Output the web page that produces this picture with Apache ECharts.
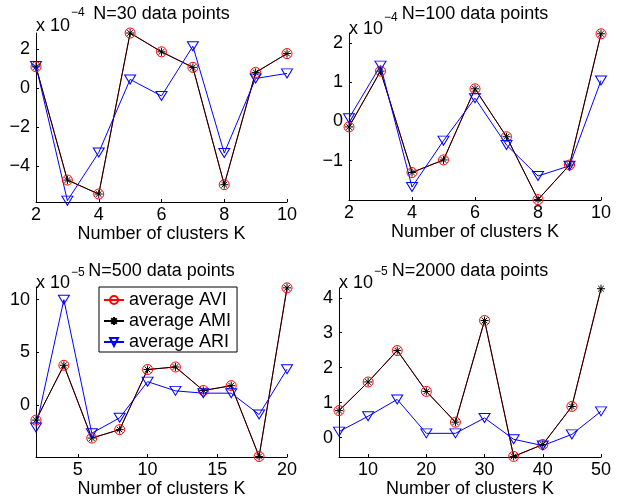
<!DOCTYPE html>
<html lang="en">
<head>
  <meta charset="UTF-8">
  <title>Average AVI / AMI / ARI vs K</title>
  <script src="https://cdn.jsdelivr.net/npm/echarts@6/dist/echarts.min.js"></script>
  <style>
    html, body { margin: 0; padding: 0; background: #fff; }
    #main { width: 618px; height: 499px; }
  </style>
</head>
<body>
  <div id="main"></div>
  <script>
  // cluster counts per panel
  const kSmall = [2, 3, 4, 5, 6, 7, 8, 9, 10];
  const k500 = [2, 4, 6, 8, 10, 12, 14, 16, 18, 20];
  const k2000 = [5, 10, 15, 20, 25, 30, 35, 40, 45, 50];

  // N=30 (x 1e-4)
  const avi30 = [1.11, -4.72, -5.44, 2.85, 1.88, 1.08, -4.96, 0.82, 1.79];
  const ami30 = [1.11, -4.72, -5.44, 2.85, 1.88, 1.08, -4.96, 0.82, 1.79];
  const ari30 = [1.15, -5.78, -3.30, 0.46, -0.39, 2.17, -3.33, 0.51, 0.77];

  // N=100 (x 1e-4)
  const avi100 = [-0.14, 1.28, -1.30, -0.98, 0.83, -0.39, -1.99, -1.11, 2.23];
  const ami100 = [-0.14, 1.28, -1.30, -0.98, 0.83, -0.39, -1.99, -1.11, 2.23];
  const ari100 = [0.08, 1.42, -1.67, -0.49, 0.59, -0.60, -1.39, -1.13, 1.04];

  // N=500 (x 1e-5)
  const avi500 = [-1.40, 3.79, -3.10, -2.30, 3.39, 3.63, 1.40, 1.86, -4.84, 11.12];
  const ami500 = [-1.40, 3.79, -3.10, -2.30, 3.39, 3.63, 1.40, 1.86, -4.84, 11.12];
  const ari500 = [-2.10, 10.0, -2.64, -1.18, 2.24, 1.37, 1.15, 1.15, -0.87, 3.42];

  // N=2000 (x 1e-5)
  const avi2000 = [0.77, 1.59, 2.49, 1.32, 0.44, 3.35, -0.54, -0.20, 0.89, 4.26];
  const ami2000 = [0.77, 1.59, 2.49, 1.32, 0.44, 3.35, -0.54, -0.20, 0.89, 4.26];
  const ari2000 = [0.17, 0.61, 1.09, 0.12, 0.12, 0.56, -0.05, -0.23, 0.09, 0.75];

  // tick labels
  const xTicksSmall = [2, 4, 6, 8, 10];
  const xTicks500 = [5, 10, 15, 20];
  const xTicks2000 = [10, 20, 30, 40, 50];
  const yTicks30 = [-4, -2, 0, 2];
  const yTicks100 = [-1, 0, 1, 2];
  const yTicks500 = [0, 5, 10];
  const yTicks2000 = [0, 1, 2, 3, 4];

  const titles = ['N=30 data points', 'N=100 data points', 'N=500 data points', 'N=2000 data points'];
  const exponents = ['\u22124', '\u22124', '\u22125', '\u22125'];
  const names = ['average AVI', 'average AMI', 'average ARI'];

  const FONT = 'Liberation Sans';
  const chart = echarts.init(document.getElementById('main'));

  const grids = [
    { left: 36, top: 33, width: 251, height: 169 },
    { left: 349, top: 33, width: 252, height: 167 },
    { left: 36, top: 287, width: 251, height: 175 },
    { left: 339, top: 288, width: 262, height: 175 }
  ];
  const xRanges = [[2, 10], [2, 10], [2, 20], [5, 50]];
  const yRanges = [[-5.85, 2.85], [-2.0, 2.25], [-4.9, 11.2], [-0.56, 4.28]];
  const xTicks = [xTicksSmall, xTicksSmall, xTicks500, xTicks2000];
  const yTicks = [yTicks30, yTicks100, yTicks500, yTicks2000];

  const fmt = v => String(v).replace('-', '\u2212');

  function axisCommon(i) {
    return {
      gridIndex: i,
      type: 'value',
      splitLine: { show: false },
      axisLine: { show: true, onZero: false, lineStyle: { color: '#000', width: 1 } }
    };
  }

  const xAxes = grids.map((g, i) => Object.assign(axisCommon(i), {
    min: xRanges[i][0], max: xRanges[i][1],
    name: 'Number of clusters K', nameLocation: 'middle', nameGap: 19,
    nameTextStyle: { fontFamily: FONT, fontSize: 18, color: '#000' },
    axisLabel: { customValues: xTicks[i], margin: 4, fontFamily: FONT, fontSize: 18, color: '#000', formatter: fmt },
    axisTick: { show: true, inside: true, length: 3, customValues: xTicks[i], lineStyle: { color: '#000' } }
  }));

  const yAxes = grids.map((g, i) => Object.assign(axisCommon(i), {
    min: yRanges[i][0], max: yRanges[i][1],
    axisLabel: { customValues: yTicks[i], margin: 6, fontFamily: FONT, fontSize: 18, color: '#000', formatter: fmt },
    axisTick: { show: true, inside: true, length: 3, customValues: yTicks[i], lineStyle: { color: '#000' } }
  }));

  const ASTERISK = 'path://M4,0L4,8M0,4L8,4M1.2,1.2L6.8,6.8M1.2,6.8L6.8,1.2';
  const TRI_DOWN = 'path://M0,0L11,0L5.5,9Z';

  function pts(ks, vals, hideLast) {
    return ks.map((k, j) => {
      if (hideLast && j === ks.length - 1) return { value: [k, vals[j]], symbol: 'none' };
      return [k, vals[j]];
    });
  }

  function panelSeries(i, ks, avi, ami, ari, hideLastAvi) {
    return [
      {
        name: names[0], type: 'line', xAxisIndex: i, yAxisIndex: i, clip: false,
        data: pts(ks, avi, hideLastAvi),
        color: '#ff0000',
        symbol: 'circle', symbolSize: 10,
        lineStyle: { color: '#ff0000', width: 1 },
        itemStyle: { color: 'rgba(0,0,0,0)', borderColor: '#ff0000', borderWidth: 1 }
      },
      {
        name: names[1], type: 'line', xAxisIndex: i, yAxisIndex: i, clip: false,
        data: pts(ks, ami, false),
        color: '#000',
        symbol: ASTERISK, symbolSize: 8,
        lineStyle: { color: '#000', width: 1 },
        itemStyle: { color: '#000', borderColor: '#000', borderWidth: 1 }
      },
      {
        name: names[2], type: 'line', xAxisIndex: i, yAxisIndex: i, clip: false,
        data: pts(ks, ari, false),
        color: '#0000ff',
        symbol: TRI_DOWN, symbolSize: [11, 9],
        lineStyle: { color: '#0000ff', width: 1 },
        itemStyle: { color: 'rgba(0,0,0,0)', borderColor: '#0000ff', borderWidth: 1 }
      }
    ];
  }

  const series = [].concat(
    panelSeries(0, kSmall, avi30, ami30, ari30, false),
    panelSeries(1, kSmall, avi100, ami100, ari100, false),
    panelSeries(2, k500, avi500, ami500, ari500, false),
    panelSeries(3, k2000, avi2000, ami2000, ari2000, true)
  );

  // titles and "x 10^-n" multipliers above each axes
  const titleTops = [5, 5, 262, 262];
  const x10 = [{ l: 36, t: 17 }, { l: 349, t: 20 }, { l: 36, t: 274 }, { l: 339, t: 274 }];
  const supTops = [7, 12, 267, 266];
  const titleList = [];
  grids.forEach((g, i) => {
    titleList.push({
      text: titles[i], left: g.left + g.width / 2, top: titleTops[i], textAlign: 'center', padding: 0,
      textStyle: { fontFamily: FONT, fontSize: 18, fontWeight: 'normal', color: '#000' }
    });
    titleList.push({
      text: 'x 10', left: x10[i].l, top: x10[i].t, padding: 0,
      textStyle: { fontFamily: FONT, fontSize: 18, fontWeight: 'normal', color: '#000' }
    });
    titleList.push({
      text: exponents[i], left: x10[i].l + 35, top: supTops[i], padding: 0,
      textStyle: { fontFamily: FONT, fontSize: 12, fontWeight: 'normal', color: '#000' }
    });
  });

  chart.setOption({
    animation: false,
    backgroundColor: '#fff',
    title: titleList,
    grid: grids,
    xAxis: xAxes,
    yAxis: yAxes,
    legend: {
      data: names,
      orient: 'vertical',
      left: 99, top: 287,
      padding: [4, 6, 1, 4],
      itemWidth: 20, itemHeight: 10, itemGap: 3,
      backgroundColor: '#fff',
      borderColor: '#000', borderWidth: 1,
      selectedMode: false,
      textStyle: { fontFamily: FONT, fontSize: 18, color: '#000' }
    },
    series: series
  });
  </script>
</body>
</html>
